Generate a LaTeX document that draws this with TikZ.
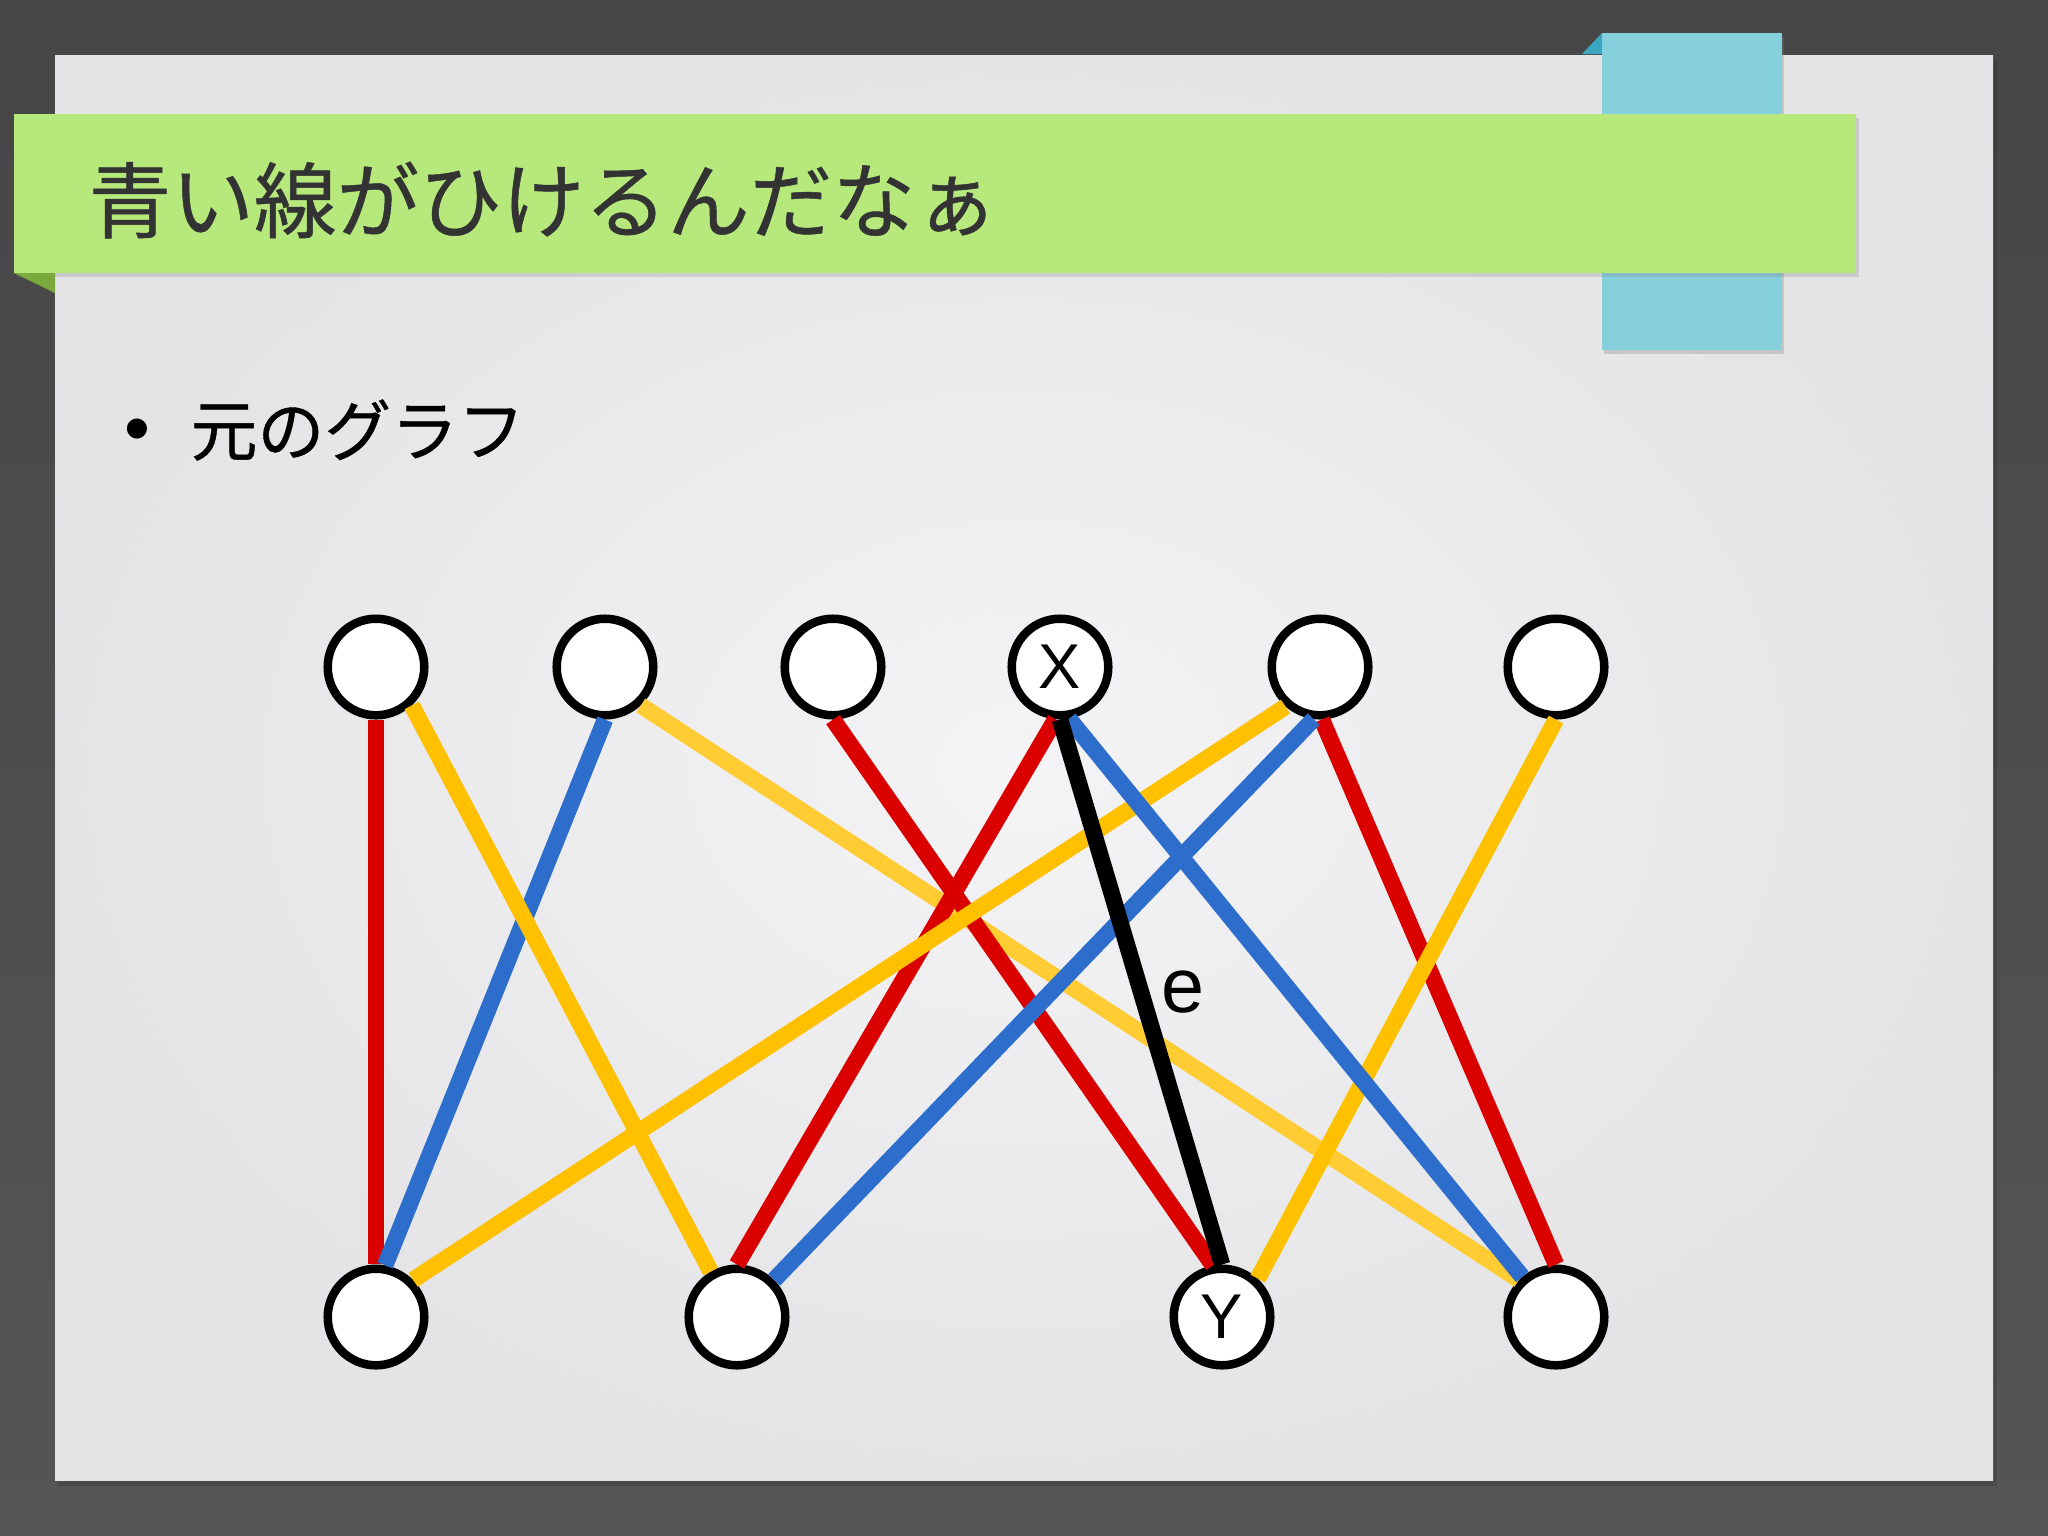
\documentclass[tikz,border=0pt]{standalone}
\usepackage{fontspec}
\setmainfont{Liberation Sans}
\newfontfamily\jpfont[FakeBold=0.6]{Noto Sans CJK JP}
\usetikzlibrary{shadows}

\definecolor{bgtop}{HTML}{464647}
\definecolor{bgbottom}{HTML}{555457}
\definecolor{paperin}{HTML}{F4F3F5}
\definecolor{paperout}{HTML}{E4E4E6}
\definecolor{band}{HTML}{B6E87C}
\definecolor{banddark}{HTML}{7AAA3E}
\definecolor{tabblue}{HTML}{86D0DE}
\definecolor{tabdark}{HTML}{3AA6C0}
\definecolor{titlegray}{HTML}{333333}
\definecolor{gred}{HTML}{DA0000}
\definecolor{gblue}{HTML}{2D6ECD}
\definecolor{gyellow}{HTML}{FFC000}
\definecolor{gyellowlight}{HTML}{FFCC33}

\begin{document}
\begin{tikzpicture}[x=0.01cm, y=-0.01cm,
    vertex/.style={circle, draw=black, fill=white, line width=0.085cm,
      minimum size=0.965cm, inner sep=0pt, font=\fontsize{18pt}{20pt}\selectfont},
    edge/.style={line width=0.165cm},
    redge/.style={edge, gred},
    bedge/.style={edge, gblue},
    yedge/.style={edge, gyellow},
    ledge/.style={edge, gyellowlight}]
    \useasboundingbox (0,0) rectangle (2048,1535);
    % slide background
    \shade[top color=bgtop, bottom color=bgbottom] (0,0) rectangle (2048,1535);
    \fill[black, opacity=0.12] (58,59) rectangle (1997,1486);
    \shade[inner color=paperin, outer color=paperout] (55,55) rectangle (1993,1480);
    % title ribbon
    \fill[tabblue, drop shadow={shadow xshift=0.02cm, shadow yshift=-0.04cm, opacity=0.3}] (1602,33) rectangle (1782,350);
    \fill[tabdark] (1582,54) -- (1602,33) -- (1602,54) -- cycle;
    \fill[band, drop shadow={shadow xshift=0.03cm, shadow yshift=-0.04cm, opacity=0.25}] (14,114) rectangle (1856,273);
    \fill[banddark] (14,273) -- (55,273) -- (55,293) -- cycle;
    \node[anchor=west, inner sep=0pt, text=titlegray, font=\jpfont\fontsize{23.5pt}{27pt}\selectfont] (title) at (88,200) {青い線がひけるんだなぁ};
    \node[inner sep=0pt, font=\fontsize{21pt}{24pt}\selectfont] (dot) at (137,436) {•};
    \node[anchor=west, inner sep=0pt, font=\jpfont\fontsize{19pt}{22pt}\selectfont] (sub) at (190,430) {元のグラフ};

    % vertices
    \node[vertex] (a1) at (376,667) {};
    \node[vertex] (a2) at (605,667) {};
    \node[vertex] (a3) at (833,667) {};
    \node[vertex] (a4) at (1060,667) {X};
    \node[vertex] (a5) at (1320,667) {};
    \node[vertex] (a6) at (1556,667) {};
    \node[vertex] (b1) at (376,1317) {};
    \node[vertex] (b2) at (737,1317) {};
    \node[vertex] (b3) at (1222,1317) {Y};
    \node[vertex] (b4) at (1556,1317) {};

    % edges
    \draw[ledge] (a2.-47) -- (b4.135);
    \draw[redge] (a1.south) -- (b1.north);
    \draw[redge] (a3.south) -- (b3.100);
    \draw[redge] (a4.-95) -- (b2.north);
    \draw[redge] (a5.-88) -- (b4.north);
    \draw[bedge] (a2.south) -- (b1.80);
    \draw[yedge] (a1.-47) -- (b2.120);
    \draw[yedge] (a5.-131) -- (b1.45);
    \draw[yedge] (a6.south) -- (b3.47);
    \draw[bedge] (a4.-80) -- (b4.130);
    \draw[bedge] (a5.-97) -- (b2.45);
    \draw[edge, black] (a4.south) -- (b3.north)
        node[midway, anchor=west, xshift=0.12cm, inner sep=0pt, font=\fontsize{22pt}{24pt}\selectfont] (elabel) {e};
\end{tikzpicture}
\end{document}
